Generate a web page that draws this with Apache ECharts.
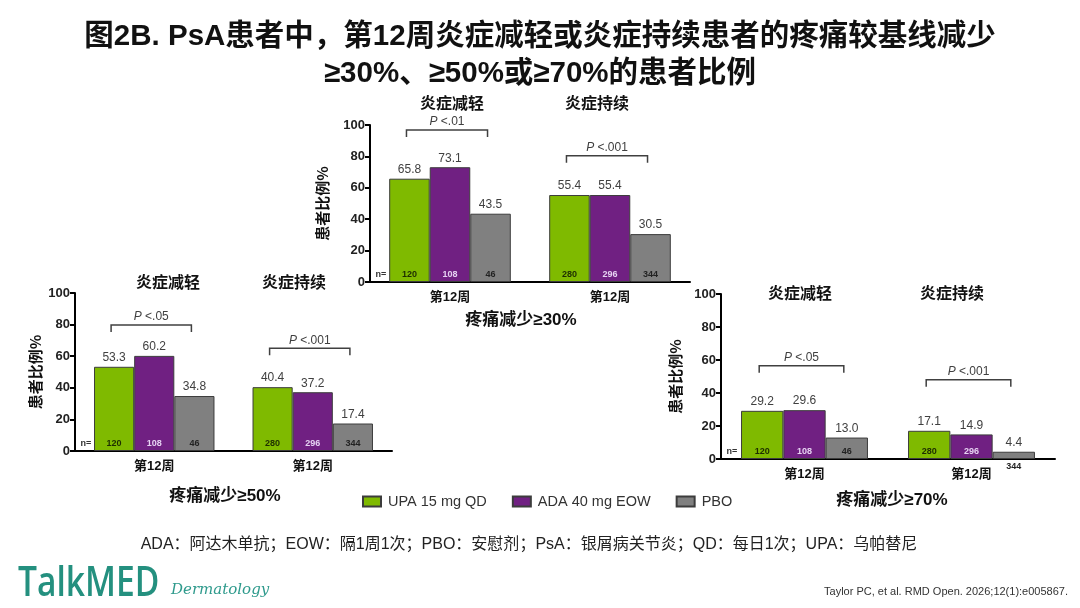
<!DOCTYPE html>
<html>
<head>
<meta charset="utf-8">
<title>图2B PsA 疼痛减少</title>
<script src="https://cdn.jsdelivr.net/npm/echarts@6/dist/echarts.min.js"></script>
<style>
  html, body { margin: 0; padding: 0; background: #fff; }
  #chart { width: 1080px; height: 608px; }
</style>
</head>
<body>
<div id="chart"></div>
<script>
"use strict";
// data
const groups = ["炎症减轻", "炎症持续"];
const weekLabel = "第12周";
const seriesNames = ["UPA 15 mg QD", "ADA 40 mg EOW", "PBO"];
const yTicks = [0, 20, 40, 60, 80, 100];

const upa30 = [65.8, 55.4], ada30 = [73.1, 55.4], pbo30 = [43.5, 30.5];
const upa50 = [53.3, 40.4], ada50 = [60.2, 37.2], pbo50 = [34.8, 17.4];
const upa70 = [29.2, 17.1], ada70 = [29.6, 14.9], pbo70 = [13.0, 4.4];

const nUpa = [120, 280], nAda = [108, 296], nPbo = [46, 344];

const p30 = ["<.01", "<.001"], p50 = ["<.05", "<.001"], p70 = ["<.05", "<.001"];
// bracket height (in % units)
const bracket30 = [96.8, 80.4], bracket50 = [79.7, 65], bracket70 = [56.5, 48];

const panels = [
  { title: "疼痛减少≥30%", values: [upa30, ada30, pbo30], p: p30, bracket: bracket30 },
  { title: "疼痛减少≥50%", values: [upa50, ada50, pbo50], p: p50, bracket: bracket50 },
  { title: "疼痛减少≥70%", values: [upa70, ada70, pbo70], p: p70, bracket: bracket70 }
];

// layout in pixels
const layout = [
  { grid: { left: 370, top: 125, width: 320, height: 157 }, nameGap: 40, sub: [[452, 103], [597, 103]], foot: [521, 320] },
  { grid: { left: 75, top: 293, width: 317, height: 158 }, nameGap: 32, sub: [[168, 282], [294, 282]], foot: [225, 496] },
  { grid: { left: 721, top: 294, width: 334, height: 165 }, nameGap: 38, sub: [[800, 293], [952, 293]], foot: [892, 500] }
];

const colors = ["#7fba00", "#702082", "#808080"];
const nColors = ["#1e2e00", "#e6d2f2", "#222"];
const catGap = 0.24;
const cjk = "'Noto Sans CJK SC', sans-serif";
const latin = "'Liberation Sans', Arial, sans-serif";
const mixed = "'Liberation Sans', 'Noto Sans CJK SC', sans-serif";

const chart = echarts.init(document.getElementById("chart"));

const grids = [], xAxes = [], yAxes = [], series = [], graphics = [];

panels.forEach(function (panel, k) {
  const lay = layout[k];
  grids.push(lay.grid);
  xAxes.push({
    type: "category",
    gridIndex: k,
    data: groups,
    axisLine: { lineStyle: { color: "#000", width: 2 } },
    axisTick: { alignWithLabel: true, length: 5, lineStyle: { width: 2, color: "#000" } },
    axisLabel: {
      formatter: function () { return weekLabel; },
      fontFamily: mixed, fontWeight: "bold", fontSize: 13, color: "#111", margin: 9
    }
  });
  yAxes.push({
    type: "value",
    gridIndex: k,
    min: yTicks[0],
    max: yTicks[yTicks.length - 1],
    interval: yTicks[1] - yTicks[0],
    name: "患者比例%",
    nameLocation: "middle",
    nameGap: lay.nameGap,
    nameTextStyle: { fontFamily: cjk, fontWeight: "bold", fontSize: 15, color: "#111" },
    splitLine: { show: false },
    axisLine: { show: true, lineStyle: { color: "#000", width: 2 } },
    axisTick: { show: true, length: 5, lineStyle: { width: 2, color: "#000" } },
    axisLabel: { fontFamily: latin, fontWeight: "bold", fontSize: 13, color: "#222", margin: 5 }
  });

  panel.values.forEach(function (vals, s) {
    series.push({
      name: seriesNames[s],
      type: "bar",
      xAxisIndex: k,
      yAxisIndex: k,
      data: vals,
      barGap: "0%",
      barCategoryGap: catGap * 100 + "%",
      itemStyle: { color: colors[s], borderColor: "#3c3c3c", borderWidth: 1 },
      label: {
        show: true, position: "top", distance: 3,
        fontFamily: latin, fontSize: 12, color: "#404040",
        formatter: function (p) { return p.value.toFixed(1); }
      },
      emphasis: { disabled: true }
    });
  });

  // n counts at the bottom of each bar
  const nData = [];
  [nUpa, nAda, nPbo].forEach(function (ns, s) {
    ns.forEach(function (n, i) { nData.push([i, s, n, panel.values[s][i]]); });
  });
  series.push({
    type: "custom",
    xAxisIndex: k,
    yAxisIndex: k,
    z: 5,
    silent: true,
    data: nData,
    renderItem: function (params, api) {
      const cat = api.value(0), slot = api.value(1);
      const base = api.coord([cat, 0]);
      const band = api.size([1, 0])[0];
      const bw = band * (1 - catGap) / 3;
      const below = api.value(3) < 6;
      const children = [{
        type: "text",
        style: {
          text: String(api.value(2)),
          x: base[0] + (slot - 1) * bw,
          y: below ? base[1] + 8 : base[1] - 7,
          align: "center", verticalAlign: "middle",
          font: "bold 9px " + latin,
          fill: below ? "#222" : nColors[slot]
        }
      }];
      if (cat === 0 && slot === 0) {
        children.push({
          type: "text",
          style: {
            text: "n=", x: base[0] - band / 2 + 11, y: base[1] - 7,
            align: "center", verticalAlign: "middle",
            font: "bold 9px " + latin, fill: "#333"
          }
        });
      }
      return { type: "group", children: children };
    }
  });

  // P value brackets from UPA bar to PBO bar
  series.push({
    type: "custom",
    xAxisIndex: k,
    yAxisIndex: k,
    z: 5,
    silent: true,
    data: panel.bracket.map(function (v, i) { return [i, v]; }),
    renderItem: function (params, api) {
      const c = api.coord([api.value(0), api.value(1)]);
      const band = api.size([1, 0])[0];
      const bw = band * (1 - catGap) / 3;
      const x1 = c[0] - bw - 3, x2 = c[0] + bw - 3, y = c[1];
      return {
        type: "group",
        children: [{
          type: "polyline",
          shape: { points: [[x1, y + 7], [x1, y], [x2, y], [x2, y + 7]] },
          style: { stroke: "#404040", lineWidth: 1.5, fill: null }
        }, {
          type: "text",
          style: {
            text: "{i|P} " + panel.p[params.dataIndex],
            x: (x1 + x2) / 2, y: y - 8,
            align: "center", verticalAlign: "middle",
            font: "12px " + latin, fill: "#404040",
            rich: { i: { fontStyle: "italic", fontSize: 12, fontFamily: latin, fill: "#404040" } }
          }
        }]
      };
    }
  });

  groups.forEach(function (g, i) {
    graphics.push({
      type: "text", x: lay.sub[i][0], y: lay.sub[i][1],
      style: { text: g, font: "bold 16px " + cjk, fill: "#111", align: "center", verticalAlign: "middle" }
    });
  });
  graphics.push({
    type: "text", x: lay.foot[0], y: lay.foot[1],
    style: { text: panel.title, font: "bold 17px " + mixed, fill: "#111", align: "center", verticalAlign: "middle" }
  });
});

graphics.push({
  type: "text", x: 529, y: 545,
  style: {
    text: "ADA：阿达木单抗；EOW：隔1周1次；PBO：安慰剂；PsA：银屑病关节炎；QD：每日1次；UPA：乌帕替尼",
    font: "16px " + mixed, fill: "#222", align: "center", verticalAlign: "middle"
  }
});
graphics.push({
  type: "text", x: 18, y: 584, scaleX: 0.8,
  style: { text: "TalkMED", font: "600 42px 'Open Sans', sans-serif", fill: "#24907f", verticalAlign: "middle" }
});
graphics.push({
  type: "text", x: 171, y: 590,
  style: { text: "Dermatology", font: "italic 15px 'DejaVu Serif', serif", fill: "#2e9a8c", verticalAlign: "middle" }
});
graphics.push({
  type: "text", x: 1068, y: 592,
  style: { text: "Taylor PC, et al. RMD Open. 2026;12(1):e005867.", font: "11px " + latin, fill: "#333", align: "right", verticalAlign: "middle" }
});

chart.setOption({
  animation: false,
  backgroundColor: "#fff",
  title: {
    text: "图2B. PsA患者中，第12周炎症减轻或炎症持续患者的疼痛较基线减少\n≥30%、≥50%或≥70%的患者比例",
    left: "center",
    top: 13,
    textStyle: { fontFamily: mixed, fontWeight: "bold", fontSize: 29.5, lineHeight: 37, color: "#111" }
  },
  legend: {
    data: seriesNames,
    left: 357,
    top: 489,
    icon: "rect",
    itemWidth: 18,
    itemHeight: 10,
    itemGap: 25,
    selectedMode: false,
    textStyle: { fontFamily: latin, fontSize: 14.5, color: "#333", padding: [0, 0, 0, 2] }
  },
  grid: grids,
  xAxis: xAxes,
  yAxis: yAxes,
  series: series,
  graphic: graphics
});
</script>
</body>
</html>
